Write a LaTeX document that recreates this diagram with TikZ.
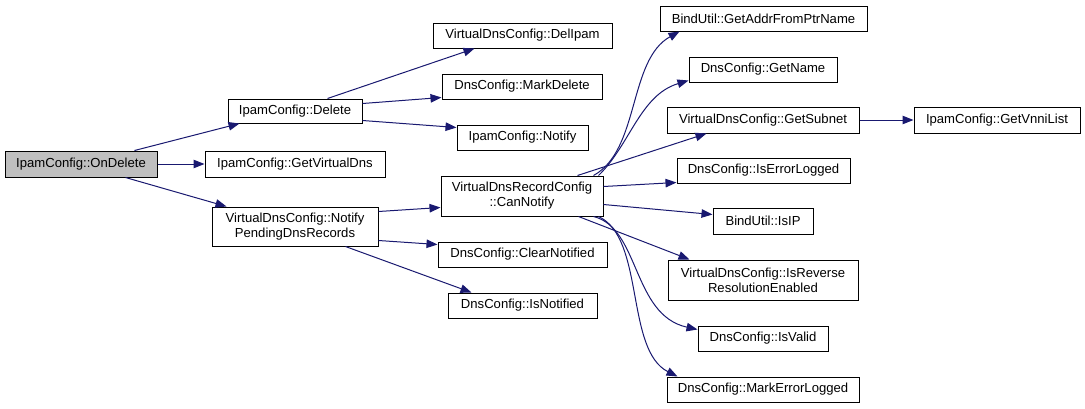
\documentclass[tikz,border=0pt]{standalone}
\usepackage{fontspec}
\setmainfont{Liberation Sans}
\usetikzlibrary{arrows.meta}
\definecolor{edgec}{HTML}{191970}
\definecolor{grayfill}{HTML}{BFBFBF}
\tikzset{
  box/.style={draw=black, line width=1pt, fill=white, inner sep=0pt, align=center,
    font=\fontsize{13.1}{15}\selectfont, minimum height=25pt},
  tall/.style={minimum height=40pt},
  edge/.style={draw=edgec, line width=1pt, -{Triangle[length=11pt,width=8.5pt]}},
}
\begin{document}
\begin{tikzpicture}[x=1pt,y=-1pt]
\useasboundingbox (0,0) rectangle (1085,408);
\node[box, fill=grayfill, minimum width=152pt, minimum height=26pt] (ondelete) at (81,164) {IpamConfig::OnDelete};
\node[box, minimum width=134pt, minimum height=24pt] (delete) at (295,111) {IpamConfig::Delete};
\node[box, minimum width=180pt, minimum height=26pt] (getvd) at (295,164) {IpamConfig::GetVirtualDns};
\node[box, tall, minimum width=166pt, minimum height=39pt] (notifyp) at (295,226.5) {VirtualDnsConfig::Notify\\PendingDnsRecords};
\node[box, minimum width=179pt] (delipam) at (522.5,35.5) {VirtualDnsConfig::DelIpam};
\node[box, minimum width=160pt] (markdel) at (522,86.5) {DnsConfig::MarkDelete};
\node[box, minimum width=131pt] (notify) at (522.5,137.5) {IpamConfig::Notify};
\node[box, tall, minimum width=162pt] (cannotify) at (522,196) {VirtualDnsRecordConfig\\::CanNotify};
\node[box, minimum width=169pt] (clearnot) at (522.5,254.5) {DnsConfig::ClearNotified};
\node[box, minimum width=149pt] (isnot) at (522.5,305.5) {DnsConfig::IsNotified};
\node[box, minimum width=207pt] (getaddr) at (763.5,18.5) {BindUtil::GetAddrFromPtrName};
\node[box, minimum width=148pt] (getname) at (763,69.5) {DnsConfig::GetName};
\node[box, minimum width=192pt, minimum height=26pt] (getsubnet) at (763,120) {VirtualDnsConfig::GetSubnet};
\node[box, minimum width=166pt, minimum height=26pt] (getvnni) at (997,120) {IpamConfig::GetVnniList};
\node[box, minimum width=173pt] (iserr) at (763.5,170.5) {DnsConfig::IsErrorLogged};
\node[box, minimum width=100pt, minimum height=26pt] (isip) at (763,221) {BindUtil::IsIP};
\node[box, tall, minimum width=190pt] (isrev) at (763,280) {VirtualDnsConfig::IsReverse\\ResolutionEnabled};
\node[box, minimum width=130pt] (isvalid) at (763,338.5) {DnsConfig::IsValid};
\node[box, minimum width=192pt] (markerr) at (763,389.5) {DnsConfig::MarkErrorLogged};

\draw[edge] ([xshift=130pt]ondelete.north west) -- ([xshift=12pt]delete.south west);
\draw[edge] (ondelete.east) -- (getvd.west);
\draw[edge] ([xshift=121pt]ondelete.south west) -- ([xshift=15pt]notifyp.north west);
\draw[edge] ([xshift=100pt]delete.north west) -- ([xshift=42pt]delipam.south west);
\draw[edge] ([yshift=-5pt]delete.north east) -- ([yshift=2pt]markdel.south west);
\draw[edge] ([yshift=3pt]delete.south east) -- ([yshift=-3pt]notify.north west);
\draw[edge] ([yshift=-5pt]notifyp.north east) -- ([yshift=9pt]cannotify.south west);
\draw[edge] ([yshift=6pt]notifyp.south east) -- ([yshift=-3pt]clearnot.north west);
\draw[edge] ([xshift=-33pt]notifyp.south east) -- ([xshift=24pt]isnot.north west);

\draw[edge] ([xshift=-10pt]cannotify.north east) .. controls (640,150) and (628,60) .. ([xshift=20pt]getaddr.south west);
\draw[edge] ([xshift=-5pt]cannotify.north east) .. controls (630,145) and (640,95) .. ([yshift=2pt]getname.south west);
\draw[edge] ([xshift=-26pt]cannotify.north east) -- ([xshift=40pt]getsubnet.south west);
\draw[edge] ([yshift=-11pt]cannotify.north east) -- ([yshift=1pt]iserr.south west);
\draw[edge] ([yshift=12pt]cannotify.south east) -- ([yshift=-7pt]isip.north west);
\draw[edge] ([xshift=-25pt]cannotify.south east) -- ([xshift=22pt]isrev.north west);
\draw[edge] ([xshift=-10pt]cannotify.south east) .. controls (640,228) and (632,315) .. ([yshift=-4pt]isvalid.north west);
\draw[edge] ([xshift=-5pt]cannotify.south east) .. controls (645,238) and (625,350) .. ([xshift=11pt]markerr.north west);
\draw[edge] (getsubnet.east) -- (getvnni.west);
\end{tikzpicture}
\end{document}
